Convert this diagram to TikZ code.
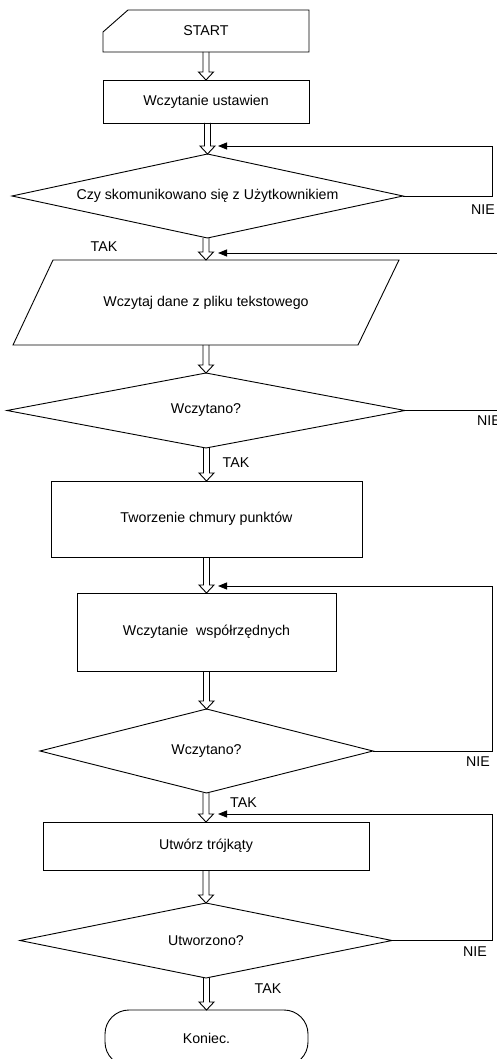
\documentclass[tikz,border=0pt]{standalone}
\usepackage{fontspec}
\setmainfont{Liberation Sans}
\usetikzlibrary{calc,arrows.meta}
\newcommand{\flowarrow}[2]{%
  \draw[ln, line join=miter] ($(#1.south -| #2.north)+(-3,0)$) -- ($(#2.north)+(-3,-8)$) -- ($(#2.north)+(-7.5,-8)$) -- (#2.north) -- ($(#2.north)+(7.5,-8)$) -- ($(#2.north)+(3,-8)$) -- ($(#1.south -| #2.north)+(3,0)$);}
\newcommand{\diamondpath}[1]{%
  \draw[ln] (#1.west) -- (#1.north) -- (#1.east) -- (#1.south) -- cycle;}
\begin{document}
\begin{tikzpicture}[x=1pt,y=-1pt,
  every node/.style={font=\fontsize{14.2}{16}\selectfont, inner sep=0pt, outer sep=0pt},
  ln/.style={line width=0.9pt, black},
  procbox/.style={draw, line width=0.9pt, rectangle},
  hid/.style={rectangle},
  fb/.style={ln, -{Triangle[length=9pt,width=7pt]}},
]
\useasboundingbox (0,0) rectangle (497,1059);
\clip (0,0) rectangle (497,1059);

% nodes
\node[hid, minimum width=206, minimum height=42] (start) at (206,31) {START};
\draw[ln] ($(start.north west)+(25,0)$) -- (start.north east) -- (start.south east) -- (start.south west) -- ($(start.north west)+(0,22)$) -- cycle;

\node[procbox, minimum width=206, minimum height=43] (ustaw) at (206,101.5) {Wczytanie ustawien};

\node[hid, minimum width=391, minimum height=84] (d1) at (207.5,196) {Czy skomunikowano się z Użytkownikiem};
\diamondpath{d1}

\node[hid, minimum width=386, minimum height=85] (para) at (206,302.5) {Wczytaj dane z pliku tekstowego};
\draw[ln] ($(para.north west)+(40,0)$) -- (para.north east) -- ($(para.south east)+(-41,0)$) -- (para.south west) -- cycle;

\node[hid, minimum width=398, minimum height=75] (d2) at (206,410.5) {Wczytano?};
\diamondpath{d2}

\node[procbox, minimum width=311, minimum height=76] (chm) at (206.5,519) {Tworzenie chmury punktów};

\node[procbox, minimum width=259, minimum height=78] (wsp) at (206.5,632) {Wczytanie~ współrzędnych};

\node[hid, minimum width=333, minimum height=84] (d3) at (206.5,751) {Wczytano?};
\diamondpath{d3}

\node[procbox, minimum width=326, minimum height=48] (troj) at (206,846) {Utwórz trójkąty};

\node[hid, minimum width=372, minimum height=75] (d4) at (206,940.5) {Utworzono?};
\diamondpath{d4}

\node[draw, line width=0.9pt, rounded corners=24pt, minimum width=203, minimum height=56] (kon) at (206.5,1038) {Koniec.};

% main flow
\flowarrow{start}{ustaw}
\flowarrow{ustaw}{d1}
\flowarrow{d1}{para}
\flowarrow{para}{d2}
\flowarrow{d2}{chm}
\flowarrow{chm}{wsp}
\flowarrow{wsp}{d3}
\flowarrow{d3}{troj}
\flowarrow{troj}{d4}
\flowarrow{d4}{kon}

% feedback loops
\coordinate (rx) at (492,0);
\coordinate (rfar) at (525,0);
\coordinate (t1) at ($(d1.north)+(10.5,-8)$);
\coordinate (t2) at ($(para.north)+(12,-7)$);
\coordinate (t3) at ($(wsp.north)+(11.5,-7)$);
\coordinate (t4) at ($(troj.north)+(12,-8)$);
\draw[fb] (d1.east) -- (d1.east -| rx) |- (t1);
\draw[fb] (d2.east) -- (d2.east -| rfar) |- (t2);
\draw[fb] (d3.east) -- (d3.east -| rx) |- (t3);
\draw[fb] (d4.east) -- (d4.east -| rx) |- (t4);

% labels
\node (n1) at (483,210) {NIE};
\node (y1) at (104,247) {TAK};
\node (n2) at (489,421) {NIE};
\node (y2) at (236,463) {TAK};
\node (n3) at (478,762) {NIE};
\node (y3) at (243.5,803) {TAK};
\node (n4) at (475,952) {NIE};
\node (y4) at (268,989) {TAK};
\end{tikzpicture}
\end{document}
